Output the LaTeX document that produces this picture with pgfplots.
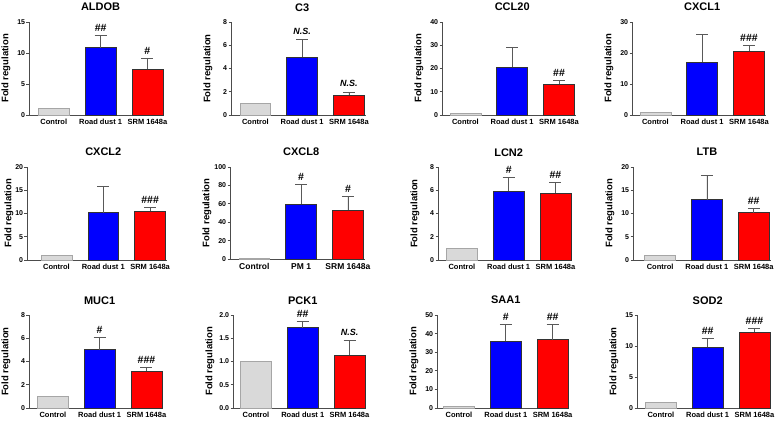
\documentclass[border=0pt]{standalone}
\usepackage{pgfplots}
\pgfplotsset{compat=1.18}
\usepackage{fontspec}
\setmainfont{Liberation Sans}
\definecolor{ctrl}{HTML}{D9D9D9}
\definecolor{ctrledge}{HTML}{A6A6A6}
\definecolor{rd}{HTML}{0000FF}
\definecolor{srm}{HTML}{FF0000}
\pgfplotsset{
  panel/.style={
    scale only axis, x=46.8pt, height=93pt, anchor=south west,
    ybar, bar width=0.66, bar shift=0pt,
    xmax=2.36, ymin=0,
    axis x line*=bottom, axis y line*=left,
    axis line style={-, black!70, line width=0.9pt},
    xtick={0,1,2}, xticklabels={Control,Road dust 1,SRM 1648a},
    major x tick style={draw=none},
    ytick pos=left, tick align=outside, major tick length=2.5pt,
    y tick style={black!70, line width=0.8pt},
    ticklabel style={font=\fontsize{7}{8}\selectfont\bfseries},
    x tick label style={font=\fontsize{7.5}{8.5}\selectfont\bfseries, inner sep=1.5pt},
    y tick label style={inner sep=1.2pt},
    /pgf/number format/assume math mode=true,
    ylabel={Fold regulation},
    ylabel style={font=\fontsize{9.5}{10}\selectfont\bfseries, at={([xshift=-23pt]axis description cs:0,0.5)}, anchor=center},
    clip=false,
    error bars/y dir=plus, error bars/y explicit,
    error bars/error bar style={black!65, line width=0.8pt},
    error bars/error mark options={rotate=90, mark size=6pt, black!65, line width=0.8pt},
  },
  cbar/.style={fill=ctrl, draw=ctrledge, line width=0.6pt, error bars/y dir=none},
  rbar/.style={fill=rd, draw=black!80, line width=0.6pt},
  sbar/.style={fill=srm, draw=black!80, line width=0.6pt},
}
\tikzset{
  ttl/.style={anchor=base, yshift=11pt, inner sep=0pt, font=\fontsize{11}{12}\selectfont\bfseries},
  hs/.style={anchor=base, yshift=4pt, inner sep=0pt, font=\fontsize{10.5}{11}\selectfont\bfseries},
  ns/.style={anchor=base, yshift=5pt, inner sep=0pt, font=\fontsize{9}{10}\selectfont\bfseries\itshape},
}
\begin{document}
\begin{tikzpicture}
\path[use as bounding box, fill=white] (0,0) rectangle (780pt,421pt);

% ---------------- Row 1 ----------------
\begin{axis}[panel, at={(29pt,306pt)}, xmin=-0.53, ymax=15, ytick={0,5,10,15}]
\addplot[cbar] coordinates {(0,1)};
\addplot[rbar] coordinates {(1,10.86) +- (0,1.99)};
\addplot[sbar] coordinates {(2,7.37) +- (0,1.72)};
\node[ttl] at (axis cs:1,15) {ALDOB};
\node[hs] at (axis cs:1,12.85) {\#\#};
\node[hs] at (axis cs:2,9.09) {\#};
\end{axis}

\begin{axis}[panel, at={(231pt,306pt)}, xmin=-0.52, ymax=8, ytick={0,2,4,6,8}]
\addplot[cbar] coordinates {(0,1)};
\addplot[rbar] coordinates {(1,4.99) +- (0,1.49)};
\addplot[sbar] coordinates {(2,1.72) +- (0,0.26)};
\node[ttl] at (axis cs:1,8) {C3};
\node[ns] at (axis cs:1,6.48) {N.S.};
\node[ns] at (axis cs:2,1.98) {N.S.};
\end{axis}

\begin{axis}[panel, at={(442pt,306pt)}, xmin=-0.5, ymax=40, ytick={0,10,20,30,40}]
\addplot[cbar] coordinates {(0,0.9)};
\addplot[rbar] coordinates {(1,20.7) +- (0,8.4)};
\addplot[sbar] coordinates {(2,13.4) +- (0,1.6)};
\node[ttl] at (axis cs:1,40) {CCL20};
\node[hs] at (axis cs:2,15.0) {\#\#};
\end{axis}

\begin{axis}[panel, at={(632pt,306pt)}, xmin=-0.5, ymax=30, ytick={0,10,20,30}]
\addplot[cbar] coordinates {(0,0.9)};
\addplot[rbar] coordinates {(1,17.1) +- (0,9.0)};
\addplot[sbar] coordinates {(2,20.5) +- (0,1.9)};
\node[ttl] at (axis cs:1,30) {CXCL1};
\node[hs] at (axis cs:2,22.4) {\#\#\#};
\end{axis}

% ---------------- Row 2 ----------------
\begin{axis}[panel, at={(27pt,161pt)}, xmin=-0.63, ymax=20, ytick={0,5,10,15,20},
  ylabel style={at={([xshift=-18pt]axis description cs:0,0.5)}}]
\addplot[cbar] coordinates {(0,1)};
\addplot[rbar] coordinates {(1,10.2) +- (0,5.55)};
\addplot[sbar] coordinates {(2,10.43) +- (0,0.87)};
\node[ttl] at (axis cs:1,20) {CXCL2};
\node[hs] at (axis cs:2,11.3) {\#\#\#};
\end{axis}

\begin{axis}[panel, at={(230pt,162pt)}, xmin=-0.52, ymax=100, ytick={0,20,40,60,80,100}, height=92pt,
  xticklabels={Control,PM 1,SRM 1648a}, x tick label style={font=\fontsize{8.5}{9.5}\selectfont\bfseries}]
\addplot[cbar] coordinates {(0,0.4)};
\addplot[rbar] coordinates {(1,59.8) +- (0,21.0)};
\addplot[sbar] coordinates {(2,53.3) +- (0,14.8)};
\node[ttl] at (axis cs:1,100) {CXCL8};
\node[hs] at (axis cs:1,80.8) {\#};
\node[hs] at (axis cs:2,68.1) {\#};
\end{axis}

\begin{axis}[panel, at={(438pt,161pt)}, xmin=-0.51, ymax=8, ytick={0,2,4,6,8}]
\addplot[cbar] coordinates {(0,1)};
\addplot[rbar] coordinates {(1,5.91) +- (0,1.23)};
\addplot[sbar] coordinates {(2,5.77) +- (0,0.94)};
\node[ttl] at (axis cs:1,8) {LCN2};
\node[hs] at (axis cs:1,7.14) {\#};
\node[hs] at (axis cs:2,6.71) {\#\#};
\end{axis}

\begin{axis}[panel, at={(633pt,161pt)}, xmin=-0.58, ymax=20, ytick={0,5,10,15,20}]
\addplot[cbar] coordinates {(0,1)};
\addplot[rbar] coordinates {(1,12.95) +- (0,5.15)};
\addplot[sbar] coordinates {(2,10.2) +- (0,0.95)};
\node[ttl] at (axis cs:1,20) {LTB};
\node[hs] at (axis cs:2,11.15) {\#\#};
\end{axis}

% ---------------- Row 3 ----------------
\begin{axis}[panel, at={(29pt,13pt)}, xmin=-0.51, ymax=8, ytick={0,2,4,6,8}]
\addplot[cbar] coordinates {(0,1)};
\addplot[rbar] coordinates {(1,5.01) +- (0,1.09)};
\addplot[sbar] coordinates {(2,3.19) +- (0,0.26)};
\node[ttl] at (axis cs:1,8) {MUC1};
\node[hs] at (axis cs:1,6.1) {\#};
\node[hs] at (axis cs:2,3.45) {\#\#\#};
\end{axis}

\begin{axis}[panel, at={(233pt,13pt)}, xmin=-0.49, ymax=2, ytick={0,0.5,1,1.5,2},
  yticklabel style={/pgf/number format/.cd, fixed, fixed zerofill, precision=1}]
\addplot[cbar] coordinates {(0,1)};
\addplot[rbar] coordinates {(1,1.73) +- (0,0.14)};
\addplot[sbar] coordinates {(2,1.13) +- (0,0.32)};
\node[ttl] at (axis cs:1,2) {PCK1};
\node[hs] at (axis cs:1,1.87) {\#\#};
\node[ns] at (axis cs:2,1.45) {N.S.};
\end{axis}

\begin{axis}[panel, at={(437pt,13pt)}, xmin=-0.47, ymax=50, ytick={0,10,20,30,40,50}]
\addplot[cbar] coordinates {(0,1)};
\addplot[rbar] coordinates {(1,35.8) +- (0,8.9)};
\addplot[sbar] coordinates {(2,36.8) +- (0,7.9)};
\node[ttl] at (axis cs:1,50) {SAA1};
\node[hs] at (axis cs:1,44.7) {\#};
\node[hs] at (axis cs:2,44.7) {\#\#};
\end{axis}

\begin{axis}[panel, at={(637pt,13pt)}, xmin=-0.51, ymax=15, ytick={0,5,10,15}]
\addplot[cbar] coordinates {(0,1)};
\addplot[rbar] coordinates {(1,9.79) +- (0,1.38)};
\addplot[sbar] coordinates {(2,12.29) +- (0,0.58)};
\node[ttl] at (axis cs:1,15) {SOD2};
\node[hs] at (axis cs:1,11.17) {\#\#};
\node[hs] at (axis cs:2,12.87) {\#\#\#};
\end{axis}
\end{tikzpicture}
\end{document}
